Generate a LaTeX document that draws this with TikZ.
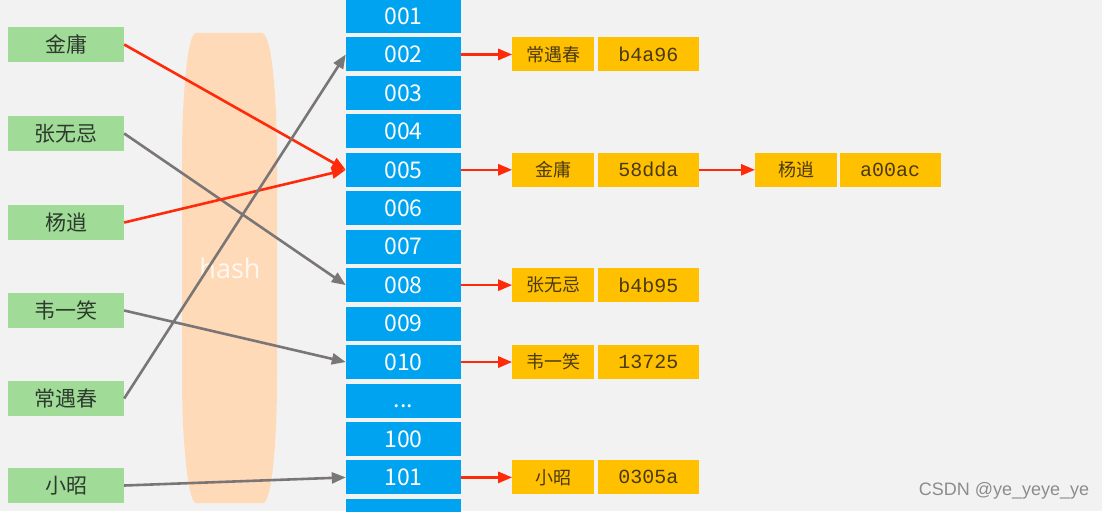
\documentclass[tikz,border=0pt]{standalone}
\usepackage{fontspec}
\setmainfont{Noto Sans CJK SC}
\newfontfamily\monofont{Liberation Mono}
\newfontfamily\latinfont{Open Sans}
\newfontfamily\markfont{Liberation Sans}
\usetikzlibrary{arrows.meta,positioning}

\definecolor{bggray}{HTML}{F2F2F2}
\definecolor{namegreen}{HTML}{A0DC98}
\definecolor{bucketblue}{HTML}{00A3EF}
\definecolor{entrygold}{HTML}{FFC000}
\definecolor{hashpeach}{HTML}{FFDAB8}
\definecolor{linkred}{HTML}{FF2A0A}
\definecolor{linkgray}{HTML}{7A7676}
\definecolor{entrytext}{HTML}{4A3A12}
\definecolor{nametext}{HTML}{2D3A2D}

\newcommand\bucketdots{\smash{\raisebox{-7pt}{...}}}

\tikzset{
  namebox/.style={fill=namegreen, minimum width=116pt, minimum height=35pt,
    inner sep=0pt, text=nametext, font=\fontsize{21}{24}\selectfont},
  bucket/.style={fill=bucketblue, minimum width=115pt, minimum height=34pt,
    inner sep=0pt, text=white, font=\fontsize{23}{26}\selectfont},
  keybox/.style={fill=entrygold, minimum width=82pt, minimum height=34pt,
    inner sep=0pt, text=entrytext, font=\fontsize{18}{20}\selectfont},
  valbox/.style={keybox, minimum width=101pt, font=\monofont\fontsize{20}{22}\selectfont},
  hashlink/.style={-{Triangle[length=14pt,width=11pt]}, line width=2.6pt, draw=linkgray},
  redlink/.style={hashlink, draw=linkred, -{Triangle[length=14pt,width=11pt,fill=linkred]}},
}

\begin{document}
\begin{tikzpicture}[x=1pt, y=-1pt]
    \path[use as bounding box, clip] (0,0) rectangle (1102,511);
    \fill[bggray] (0,0) rectangle (1102,511);

    % hash function band
    \fill[hashpeach] (196,33) -- (262,33) .. controls (272,33) and (277,100) .. (277,160)
        -- (277,380) .. controls (277,440) and (272,503) .. (263,503)
        -- (196,503) .. controls (188,503) and (182,440) .. (182,380)
        -- (182,160) .. controls (182,100) and (187,33) .. (196,33) -- cycle;
    \node[text=white, opacity=0.8, font=\latinfont\fontsize{27}{30}\selectfont] (hash) at (230,268) {hash};

    % keys on the left
    \node[namebox] (jy)  at (66,44.5)  {金庸};
    \node[namebox] (zwj) at (66,133.5) {张无忌};
    \node[namebox] (yx)  at (66,222.5) {杨逍};
    \node[namebox] (wyx) at (66,310.5) {韦一笑};
    \node[namebox] (cyc) at (66,398.5) {常遇春};
    \node[namebox] (xz)  at (66,485.5) {小昭};

    % bucket array
    \foreach \i/\lab in {1/001,2/002,3/003,4/004,5/005,6/006,7/007,8/008,9/009,10/010,11/\bucketdots,12/100,13/101,14/{}}
        \node[bucket] (b\i) at (403.5,{16+38.45*(\i-1)}) {\lab};

    % entries
    \node[keybox, right=51pt of b2] (k2) {常遇春};
    \node[valbox, right=3pt of k2] (v2) {b4a96};
    \node[keybox, right=51pt of b5] (k5) {金庸};
    \node[valbox, right=3pt of k5] (v5) {58dda};
    \node[keybox, right=56pt of v5] (k5b) {杨逍};
    \node[valbox, right=2pt of k5b] (v5b) {a00ac};
    \node[keybox, right=51pt of b8] (k8) {张无忌};
    \node[valbox, right=3pt of k8] (v8) {b4b95};
    \node[keybox, right=51pt of b10] (k10) {韦一笑};
    \node[valbox, right=3pt of k10] (v10) {13725};
    \node[keybox, right=51pt of b13] (k13) {小昭};
    \node[valbox, right=3pt of k13] (v13) {0305a};

    % bucket -> entry
    \draw[redlink] (b2) -- (k2);
    \draw[redlink] (b5) -- (k5);
    \draw[redlink] (v5) -- (k5b);
    \draw[redlink] (b8) -- (k8);
    \draw[redlink] (b10) -- (k10);
    \draw[redlink] (b13) -- (k13);

    % key -> bucket
    \draw[redlink]  (jy.east)  -- (b5.west);
    \draw[hashlink] (zwj.east) -- (b8.west);
    \draw[redlink]  (yx.east)  -- (b5.west);
    \draw[hashlink] (wyx.east) -- (b10.west);
    \draw[hashlink] (cyc.east) -- (b2.west);
    \draw[hashlink] (xz.east)  -- (b13.west);

    \node[text=black!45, font=\markfont\fontsize{18}{20}\selectfont] (mark) at (1004,491) {CSDN @ye\_yeye\_ye};
\end{tikzpicture}
\end{document}
